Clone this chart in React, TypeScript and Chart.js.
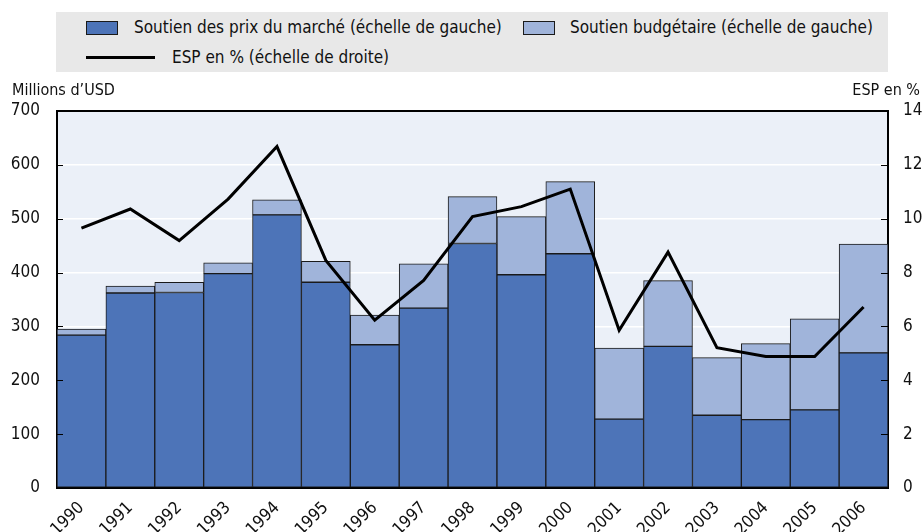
import React, { useEffect, useRef } from "react";
import { Chart, registerables } from "chart.js";

Chart.register(...registerables);

const FONT = '"Liberation Sans Narrow", "Arial Narrow", "DejaVu Sans Condensed", "Roboto", sans-serif';

const years = ["1990", "1991", "1992", "1993", "1994", "1995", "1996", "1997", "1998", "1999", "2000", "2001", "2002", "2003", "2004", "2005", "2006"];
const marketPriceSupport = [284, 362, 363, 398, 507, 382, 266, 334, 454, 396, 435, 128, 263, 135, 127, 145, 251];
const budgetSupport = [11, 13, 19, 20, 28, 39, 55, 82, 87, 108, 134, 132, 122, 107, 141, 169, 202];
const pseSeries = [9.65, 10.36, 9.19, 10.73, 12.68, 8.45, 6.23, 7.71, 10.08, 10.45, 11.1, 5.86, 8.76, 5.21, 4.88, 4.88, 6.72];

const labelMarket = "Soutien des prix du marché (échelle de gauche)";
const labelBudget = "Soutien budgétaire (échelle de gauche)";
const labelPse = "ESP en % (échelle de droite)";
const leftTitle = "Millions d’USD";
const rightTitle = "ESP en %";

const DARK = "#4d74b8";
const LIGHT = "#a0b4da";
const PLOT_BG = "#ebf0f8";
const LEGEND_BG = "#e8e8e8";

const decor = {
  id: "decor",
  beforeDraw(chart: any) {
    const { ctx, chartArea: a } = chart;
    ctx.save();
    ctx.fillStyle = PLOT_BG;
    ctx.fillRect(a.left, a.top, a.right - a.left, a.bottom - a.top);
    ctx.restore();
  },
  afterDraw(chart: any) {
    const { ctx, chartArea: a } = chart;
    ctx.save();
    ctx.strokeStyle = "#000";
    ctx.lineWidth = 2;
    ctx.beginPath();
    ctx.moveTo(a.left - 1, a.top);
    ctx.lineTo(a.right + 1, a.top);
    ctx.stroke();
    // inward tick marks
    ctx.lineWidth = 1.2;
    const yl = chart.scales.y;
    const yr = chart.scales.y1;
    ctx.beginPath();
    yl.ticks.forEach((t: any) => {
      if (t.value <= 0 || t.value >= 700) return;
      const py = Math.round(yl.getPixelForValue(t.value)) + 0.5;
      ctx.moveTo(a.left, py);
      ctx.lineTo(a.left + 6, py);
    });
    yr.ticks.forEach((t: any) => {
      if (t.value <= 0 || t.value >= 14) return;
      const py = Math.round(yr.getPixelForValue(t.value)) + 0.5;
      ctx.moveTo(a.right - 7, py);
      ctx.lineTo(a.right, py);
    });
    ctx.stroke();
    ctx.fillStyle = "#111";
    ctx.font = `16px ${FONT}`;
    ctx.textBaseline = "middle";
    ctx.textAlign = "left";
    ctx.fillText(leftTitle, 12, 91);
    ctx.textAlign = "right";
    ctx.fillText(rightTitle, 920, 91);
    ctx.restore();
  },
};

export default function App() {
  const ref = useRef<HTMLCanvasElement>(null);
  useEffect(() => {
    const tickFont = { family: FONT, size: 17 };
    const chart = new Chart(ref.current as HTMLCanvasElement, {
      type: "bar",
      data: {
        labels: years,
        datasets: [
          {
            type: "line",
            label: labelPse,
            data: pseSeries,
            yAxisID: "y1",
            borderColor: "#000",
            borderWidth: 3,
            pointRadius: 0,
            tension: 0,
            order: 0,
          } as any,
          {
            label: labelMarket,
            data: marketPriceSupport,
            backgroundColor: DARK,
            borderColor: "#1a1a1a",
            borderWidth: 1,
            borderSkipped: false,
            yAxisID: "y",
            order: 1,
            categoryPercentage: 1,
            barPercentage: 1,
          },
          {
            label: labelBudget,
            data: budgetSupport,
            backgroundColor: LIGHT,
            borderColor: "#1a1a1a",
            borderWidth: 1,
            borderSkipped: false,
            yAxisID: "y",
            order: 1,
            categoryPercentage: 1,
            barPercentage: 1,
          },
        ],
      },
      options: {
        responsive: false,
        animation: false,
        layout: { padding: { top: 111, left: 0, right: 0, bottom: 0 } },
        plugins: { legend: { display: false }, tooltip: { enabled: false } },
        scales: {
          x: {
            stacked: true,
            grid: { display: false },
            border: { display: true, color: "#000", width: 2 },
            ticks: { color: "#111", font: tickFont, maxRotation: 45, minRotation: 45, padding: 2 },
            afterFit: (s: any) => { s.height = 44; },
          },
          y: {
            stacked: true,
            position: "left",
            min: 0,
            max: 700,
            ticks: { stepSize: 100, color: "#111", font: tickFont, padding: 17 },
            grid: { color: "#ffffff", lineWidth: 1.5, drawTicks: false },
            border: { color: "#000", width: 2 },
            afterFit: (s: any) => { s.width = 57; },
          },
          y1: {
            position: "right",
            min: 0,
            max: 14,
            ticks: { stepSize: 2, color: "#111", font: tickFont, padding: 15 },
            grid: { drawOnChartArea: false, drawTicks: false },
            border: { color: "#000", width: 2 },
            afterFit: (s: any) => { s.width = 34; },
          },
        },
      } as any,
      plugins: [decor],
    });
    return () => chart.destroy();
  }, []);

  const text: React.CSSProperties = {
    position: "absolute",
    fontFamily: FONT,
    fontSize: 17,
    color: "#111",
    lineHeight: "20px",
    whiteSpace: "nowrap",
  };

  return (
    <div style={{ position: "absolute", left: 0, top: 0, width: 922, height: 532, background: "#fff" }}>
      <canvas ref={ref} width={922} height={532} style={{ position: "absolute", left: 0, top: 0 }} />
      <div style={{ position: "absolute", left: 56, top: 12, width: 832, height: 60, background: LEGEND_BG }}>
        <div style={{ position: "absolute", left: 30, top: 9, width: 30, height: 12, background: DARK, border: "1px solid #1a1a1a" }} />
        <div style={{ ...text, left: 78, top: 5 }}>{labelMarket}</div>
        <div style={{ position: "absolute", left: 467, top: 9, width: 30, height: 12, background: LIGHT, border: "1px solid #1a1a1a" }} />
        <div style={{ ...text, left: 514, top: 5 }}>{labelBudget}</div>
        <div style={{ position: "absolute", left: 30, top: 44, width: 69, height: 3, background: "#000" }} />
        <div style={{ ...text, left: 116, top: 35 }}>{labelPse}</div>
      </div>
    </div>
  );
}
